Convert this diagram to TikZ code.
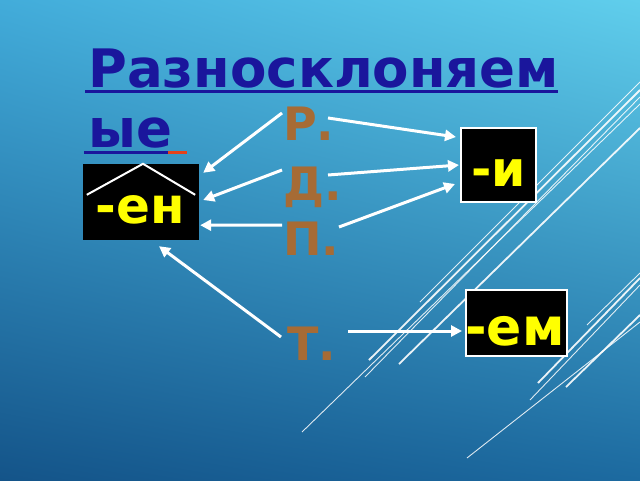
\documentclass[tikz,border=0pt]{standalone}
\usepackage{fontspec}
\setmainfont{DejaVu Sans}
\usetikzlibrary{arrows.meta,calc,shadings}
\definecolor{ttl}{RGB}{26,22,156}
\definecolor{casebrown}{RGB}{166,107,53}
\definecolor{ulred}{RGB}{230,66,26}
\definecolor{bgtl}{RGB}{66,172,218}
\definecolor{bgtr}{RGB}{96,206,236}
\definecolor{bgbl}{RGB}{20,84,137}
\definecolor{bgbr}{RGB}{28,106,160}
\definecolor{endyellow}{RGB}{255,255,0}
\begin{document}
\begin{tikzpicture}[x=1pt,y=-1pt,
  arr/.style={draw=white, line width=3pt, -{Triangle[length=11pt,width=11pt]}},
  case/.style={text=casebrown, font=\fontsize{46}{50}\selectfont\bfseries, anchor=base west, inner sep=0pt},
  ending/.style={text=endyellow, anchor=base, inner sep=0pt},
  endbox/.style={fill=black, inner sep=0pt},
  framedbox/.style={endbox, draw=white, line width=2pt},
  deco/.style={draw=white, line width=0.9pt, opacity=0.85},
  decothick/.style={draw=white, line width=1.8pt, opacity=0.9},
  title/.style={text=ttl, font=\fontsize{53}{60}\selectfont\bfseries, anchor=base west, inner sep=0pt}]
\useasboundingbox (0,0) rectangle (640,480);
\shade[upper left=bgtl, upper right=bgtr, lower left=bgbl, lower right=bgbr] (0,0) rectangle (640,480);

% decorative lines, upper group
\draw[deco] (640,82) -- (420,302);
\draw[decothick] (640,90) -- (369,360);
\draw[deco] (640,97) -- (365,377);
\draw[deco] (640,104) -- (302,432);
\draw[decothick] (640,128) -- (399,364);
% lower group
\draw[deco] (640,273) -- (587,325);
\draw[decothick] (640,278) -- (538,383);
\draw[deco] (640,285) -- (530,400);
\draw[decothick] (640,315) -- (566,387);
\draw[deco] (640,322) -- (467,458);

% title
\node[title] (t1) at (88,87) {Разносклоняем};
\node[title] (t2) at (88,147) {ые};
\draw[ttl, line width=3pt] (85,91) -- (558,91);
\draw[ttl, line width=3pt] (84,152) -- (168,152);
\draw[ulred, line width=3pt] (168,152) -- (187,152);

% ending boxes
\node[endbox, minimum width=116pt, minimum height=76pt] (en) at (141,202) {};
\node[framedbox, minimum width=75pt, minimum height=74pt] (i) at (498.5,165) {};
\node[framedbox, minimum width=101pt, minimum height=66pt] (em) at (516.5,323) {};
\node[ending, font=\fontsize{50}{54}\selectfont\bfseries] (ent) at (140,223) {-ен};
\node[ending, font=\fontsize{49}{54}\selectfont\bfseries] (it) at (498.5,186) {-и};
\node[ending, font=\fontsize{52}{56}\selectfont\bfseries] (emt) at (515,345) {-ем};
% roof
\draw[white, line width=2pt] ($(en.north west)+(4,31)$) -- ($(en.north)+(2,0)$) -- ($(en.north east)+(-4,31)$);

% case letters
\node[case] (R) at (283,140) {Р.};
\node[case] (D) at (283,200) {Д.};
\node[case] (P) at (283,255) {П.};
\node[case] (T) at (287,360) {Т.};

% arrows
\draw[arr] ($(R.base west)+(-1,-27)$) -- ($(en.north east)+(4,9)$);
\draw[arr] ($(D.base west)+(-1,-30)$) -- ($(en.east)+(4,-2)$);
\draw[arr] ($(P.base west)+(-1,-30)$) -- ($(en.south east)+(1,-15)$);
\draw[arr] ($(T.base west)+(-6,-23)$) -- ($(en.south)+(18,6)$);
\draw[arr] ($(R.base west)+(45,-22)$) -- ($(i.north west)+(-4,10)$);
\draw[arr] ($(D.base west)+(45,-25)$) -- ($(i.west)+(-1,0)$);
\draw[arr] ($(P.base west)+(56,-28)$) -- ($(i.west)+(-5,19)$);
\draw[arr] ($(T.base west)+(61,-29)$) -- ($(em.west)+(-3,8)$);
\end{tikzpicture}
\end{document}
